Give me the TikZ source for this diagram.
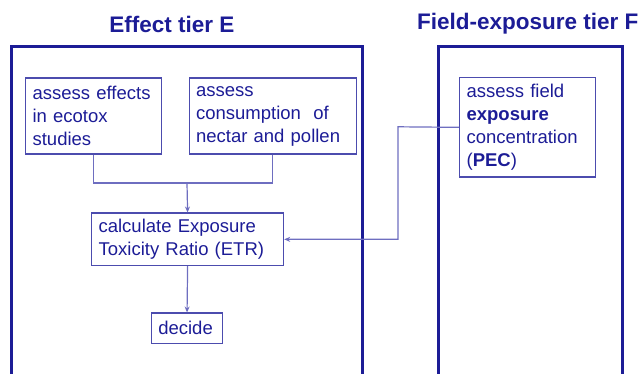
\documentclass[tikz,border=0pt]{standalone}
\usepackage{fontspec}
\setmainfont{Liberation Sans}
\usetikzlibrary{arrows.meta}
\definecolor{navy}{HTML}{1C1C96}
\definecolor{boxline}{HTML}{4C4CAE}
\definecolor{conn}{HTML}{6E6EC0}
\begin{document}
\begin{tikzpicture}[x=1pt,y=-1pt,
  tier/.style={draw=navy, line width=3pt},
  title/.style={text=navy, font=\fontsize{22.5}{27}\selectfont\bfseries, inner sep=0pt},
  stepbox/.style={draw=boxline, line width=1.2pt, text=navy, anchor=north west,
    font=\fontsize{18.5}{23}\selectfont, align=left, inner xsep=7pt, inner ysep=0pt},
  link/.style={draw=conn, line width=1.2pt},
  arr/.style={link, -{Stealth[length=6pt,width=5pt]}}]
\useasboundingbox (0,0) rectangle (641,374);
% tier frames
\node[tier, anchor=north west, minimum width=351, minimum height=340, inner sep=0pt] (tierE) at (10,45.5) {};
\node[tier, anchor=north west, minimum width=184, minimum height=340, inner sep=0pt] (tierF) at (437,45.5) {};
% titles
\node[title] (titleE) at (172,24) {Effect tier E};
\node[title, anchor=west] (titleF) at (417,24) {Field-exposure tier F};
% boxes
\node[stepbox, minimum width=136, minimum height=76, text width=122] (b1) at (25,77.5)
  {assess effects\\in ecotox\\studies};
\node[stepbox, minimum width=167.5, minimum height=76, text width=153.5] (b2) at (188.5,77.5)
  {assess\\consumption\ \ of\\nectar and pollen};
\node[stepbox, minimum width=136, minimum height=99.5, text width=122] (pec) at (459,77)
  {assess field\\\textbf{exposure}\\concentration\\(\textbf{PEC})};
\node[stepbox, minimum width=192, minimum height=52.5, text width=178] (calc) at (91,212.5)
  {calculate\ Exposure\\Toxicity Ratio (ETR)};
\node[stepbox, minimum width=71.5, minimum height=30.5, text width=57.5] (dec) at (150.7,312.5)
  {decide};
% connectors
\coordinate (j) at (187,183);
\coordinate (k) at (398,126.8);
\draw[link] (b1.south) |- (j);
\draw[link] (b2.south) |- (j);
\draw[arr] (j) -- (calc.north);
\draw[arr] (calc.south) -- (dec.north);
\draw[arr] (pec.west) -- (k) |- (calc.east);
\end{tikzpicture}
\end{document}
